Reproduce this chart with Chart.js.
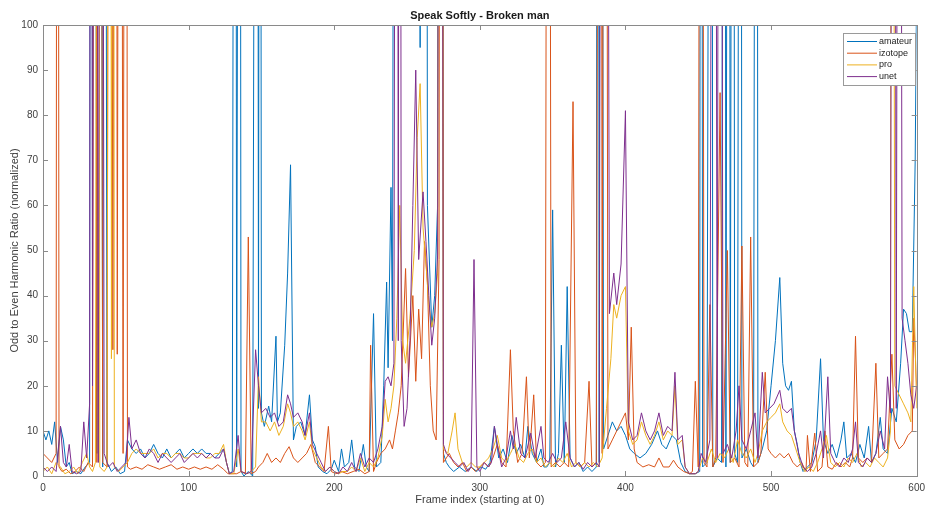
<!DOCTYPE html>
<html>
<head>
<meta charset="utf-8">
<script src="https://cdn.jsdelivr.net/npm/chart.js@4/dist/chart.umd.min.js"></script>
<style>
  html,body{margin:0;padding:0;background:#fff;}
  #wrap{width:931px;height:509px;position:relative;}
</style>
</head>
<body>
<div id="wrap"><canvas id="c" width="931" height="509"></canvas></div>
<script>
// [frame, value] pairs; 400 = spike running off the top of the axes
const amateur = [[0,10],[2,8],[4,10],[6,7],[8,12],[10,3],[12,11],[14,8],[16,2],[18,3],[20,0.5],[23,1],[26,0.5],[29,2],[32,3],[33,400],[34,41],[35,400],[37,5],[39,400],[41,2],[42,400],[44,3],[47,1],[50,2],[53,0.5],[56,1],[58,8],[61,6],[64,5],[67,6],[70,4],[73,5],[76,7],[79,5],[82,4],[85,6],[88,4],[91,5],[94,6],[97,4],[100,5],[103,6],[106,5],[109,6],[112,5],[115,5],[118,4],[121,5],[124,6],[126,3],[128,0.5],[130,1],[132,400],[133,2],[135,400],[136,1],[138,0],[141,1],[144,0],[147,400],[148,15],[149,400],[150,14],[152,11],[155,15.5],[157,12],[160,31],[161,12],[163,14],[166,29],[168,45],[170,69],[172,8],[174,11],[177,12],[180,9],[183,18],[185,8],[187,6.5],[189,2],[192,1],[195,0.5],[198,1.5],[200,3.5],[203,1],[205,6],[207,2],[210,3],[212,8],[214,2],[217,1],[220,7],[222,2],[224,1],[227,36],[229,2],[232,3],[234,20],[236,43],[237,24],[239,64],[240,30],[242,400],[250,400],[258,400],[259,95],[260,400],[263,400],[264,60],[267,33],[269,40],[271,60],[272,400],[274,400],[275,5],[277,3],[279,2],[282,1],[286,2],[290,1],[294,2],[298,1],[301,2],[304,1.5],[307,3],[310,11],[313,4],[316,6],[319,3],[322,9],[325,5],[328,7],[331,4],[333,11],[336,5],[339,3],[342,6],[344,2],[346,2],[348,3],[350,59],[352,2],[354,5],[356,29],[358,3],[360,42],[362,4],[365,2],[368,3],[371,1],[374,2],[377,1],[380,2],[381,400],[382,3],[383,400],[385,6],[388,9],[391,12],[394,10],[397,11],[400,9],[403,6],[406,5],[410,4],[414,5],[418,7],[422,10],[425,7],[428,6],[432,9],[435,8],[438,3],[441,1],[444,0.5],[448,0.5],[451,1],[452,400],[453,2],[456,3],[459,400],[460,2],[463,4],[466,3],[468,400],[469,2],[471,400],[472,3],[474,400],[475,5],[477,3],[479,400],[480,4],[483,6],[486,3],[488,2],[490,400],[491,3],[494,6],[497,10],[500,20],[503,30],[506,44],[508,25],[510,20],[512,19],[514,21],[516,10],[518,7],[520,3],[522,1],[525,2],[528,3],[531,8],[534,26],[536,8],[539,5],[542,7],[545,4],[548,8],[550,12],[552,4],[555,5],[558,3],[561,7],[564,4],[567,11],[569,3],[572,5],[575,13],[577,6],[580,5],[583,15],[586,12],[589,25],[591,37],[593,36],[595,32],[597,32],[599,70],[600,110]];

const izotope = [[0,5],[3,4],[6,3],[9,5],[10,400],[11,2],[13,1],[16,1.5],[19,0.5],[22,1],[25,2],[28,1],[31,3],[34,2],[36,400],[37,3],[39,400],[41,3],[44,2],[46,400],[48,28],[50,400],[51,27],[53,400],[55,5],[57,400],[58,2],[60,1.5],[64,2],[68,1.5],[72,2.5],[76,2],[80,1.5],[84,2],[88,2.5],[92,1.5],[96,2],[100,1.5],[104,2],[108,1.5],[112,2],[116,1.5],[120,2.5],[124,1.5],[127,0.5],[130,0.5],[133,0.5],[136,1],[139,0.5],[141,53],[143,0.5],[146,1],[148,2],[151,3],[154,5],[157,3],[160,4],[163,3],[166,5],[169,6.5],[172,4],[175,3],[178,4],[181,5],[184,7],[187,3],[190,2],[193,1],[196,11],[198,1],[201,0.5],[205,1],[209,0.5],[213,1],[217,1.5],[221,0.5],[224,1],[225,29],[227,1],[229,3],[232,5],[235,6],[238,8],[240,6],[242,10],[244,14],[246,20],[249,46],[251,22],[254,40],[256,21],[258,37],[260,26],[262,52],[264,43],[266,20],[268,10],[270,8],[272,48],[273,400],[274,400],[275,3],[277,4],[279,5],[282,3],[285,2],[288,3],[291,1],[294,2],[297,1],[300,2],[303,3],[306,2],[309,4],[312,7],[315,3],[318,2],[321,28],[323,10],[326,3],[329,5],[332,22],[334,4],[337,18],[339,3],[342,2],[345,3],[347,400],[349,2],[352,3],[355,2],[358,3],[361,2],[364,83],[366,3],[369,2],[372,3],[375,21],[377,2],[380,3],[383,400],[384,5],[386,400],[388,6],[391,8],[394,10],[397,12],[400,14],[402,8],[404,33],[406,6],[408,3],[412,2],[416,2.5],[420,2],[423,4],[426,2],[430,2],[433,3.5],[436,2],[440,1],[444,0.5],[446,1],[448,21],[450,2],[452,400],[454,3],[456,2],[458,38],[460,2],[462,4],[465,85],[467,3],[470,50],[472,3],[475,4],[478,2],[480,51],[482,3],[484,2],[486,53],[488,2],[491,3],[493,5],[496,23],[498,6],[500,5],[503,4],[506,5],[509,4],[512,5],[515,3],[518,2],[521,3],[524,1],[525,9],[527,1],[530,9.5],[532,1],[535,2],[537,10],[539,2],[542,1.5],[545,3],[548,2],[551,3],[554,2],[556,4],[558,31],[560,4],[563,3],[566,4],[569,3],[572,25],[574,4],[577,5],[580,6],[583,27],[585,8],[588,6],[591,7],[594,9],[597,10],[598,35],[600,20]];

const pro = [[0,1],[3,2],[6,0.5],[9,3],[12,2],[15,0.5],[18,1],[21,2],[24,0.5],[27,3],[30,5],[32,2],[34,1],[36,3],[38,400],[39,2],[42,1],[44,2],[46,400],[47,26],[48,400],[49,2],[52,1],[55,2],[58,3],[61,5],[64,6],[67,5],[70,5],[73,5],[76,6],[79,4],[82,5],[85,5],[88,4],[91,5],[94,5],[97,4],[100,4],[103,5],[106,5],[109,5],[112,4],[115,4],[118,5],[121,5],[124,7],[126,3],[128,0.5],[131,0.5],[134,6],[136,1],[140,0.5],[143,1],[146,2],[148,22],[150,12],[153,12],[156,10],[159,12],[162,9],[165,11],[168,16],[170,14],[172,11],[175,12],[178,10],[180,8],[183,12],[185,6],[188,4],[191,2],[194,1],[197,2],[200,1],[203,0.5],[206,1],[209,1],[212,2],[215,1],[218,4],[221,1],[224,3],[227,2],[230,4],[233,9],[235,17],[237,12],[239,15],[241,20],[243,35],[245,60],[247,30],[249,25],[252,35],[255,50],[257,75],[259,87],[261,55],[263,47],[265,38],[267,33],[269,36],[271,45],[273,400],[275,6],[278,5],[281,10],[283,14],[285,6],[288,3],[291,2],[294,3],[297,2],[300,2],[303,3],[306,4],[309,6],[312,9],[315,4],[318,3],[321,5],[324,7],[327,4],[330,3],[333,5],[336,6],[339,3],[342,4],[345,2],[348,3],[351,2],[354,4],[357,3],[360,5],[363,2],[366,3],[369,2],[372,3],[375,2],[378,3],[381,2],[384,4],[387,15],[390,26],[392,38],[394,35],[397,40],[400,42],[402,10],[405,7],[408,8],[411,12],[414,9],[417,7],[420,9],[423,12],[426,8],[429,10],[432,9],[434,20],[436,7],[439,8],[441,2],[444,0.5],[448,0.5],[450,1],[453,4],[456,3],[459,6],[462,3],[465,5],[468,4],[471,6],[474,3],[477,8],[480,5],[483,4],[486,6],[489,3],[491,5],[494,10],[497,12],[500,13],[503,14],[506,16],[508,12],[511,10],[514,9],[517,6],[520,3],[523,1],[526,2],[529,1],[532,3],[535,6],[538,9],[541,3],[544,2],[547,3],[550,2],[553,4],[556,3],[559,5],[562,2],[565,3],[568,2],[571,4],[574,3],[577,2],[580,4],[582,10],[583,400],[585,20],[588,18],[591,16],[594,14],[596,12],[598,42],[600,15]];

const unet = [[0,2],[3,1],[6,2],[9,1],[12,11],[14,3],[16,2],[18,7],[20,1],[23,0.5],[26,1],[28,12],[30,4],[32,16],[33,400],[34,20],[36,400],[38,3],[40,400],[42,5],[45,2],[48,3],[51,1],[54,2],[57,3],[59,13],[61,6],[64,8],[67,5],[70,4],[73,6],[76,5],[79,3],[82,5],[85,4],[88,3],[91,4],[94,5],[97,3],[100,4],[103,5],[106,4],[109,5],[112,4],[115,5],[118,4],[121,4],[124,6],[126,3],[128,0.5],[131,1],[134,9],[136,1],[140,0.5],[143,1],[146,28],[148,20],[150,14],[153,15],[156,13],[159,14],[162,11],[165,12],[168,18],[170,16],[172,13],[175,14],[178,12],[180,9],[183,14],[185,7],[188,5],[191,3],[194,1],[197,2],[200,1],[203,0.5],[206,2],[209,1],[212,3],[215,1],[218,5],[221,2],[224,4],[227,3],[230,6],[233,11],[235,21],[237,22],[239,20],[241,25],[243,400],[244,30],[245,400],[246,30],[248,11],[250,15],[252,30],[254,60],[256,90],[258,48],[261,63],[263,52],[265,40],[267,29],[269,35],[271,49],[273,400],[275,7],[277,5],[280,4],[283,3],[286,2],[289,3],[292,1],[294,2],[296,48],[298,2],[300,1],[303,3],[306,2],[308,3],[310,11],[312,7],[315,2],[318,4],[321,10],[323,6],[325,13],[328,5],[331,4],[335,9.5],[338,4],[342,11],[344,4],[347,3],[350,5],[353,3],[356,4],[359,12],[362,4],[365,2],[368,3],[371,1.5],[374,3],[377,2],[380,3],[382,2],[384,400],[386,400],[389,36],[392,45],[394,38],[397,47],[400,81],[402,12],[405,8],[408,9],[411,14],[414,10],[417,8],[420,10],[423,14],[426,9],[429,11],[432,10],[434,23],[436,8],[439,9],[441,2],[444,0.5],[448,0.5],[450,1],[452,5],[455,3],[458,8],[461,400],[463,4],[465,400],[467,5],[470,7],[473,4],[476,10],[478,20],[480,8],[483,6],[486,10],[489,14],[491,4],[494,23],[496,14],[499,15],[502,16],[506,19],[508,15],[511,14],[514,15],[516,10],[519,5],[522,2],[525,1],[528,2],[531,5],[534,10],[536,4],[539,22],[541,5],[544,3],[547,2],[550,4],[553,3],[556,6],[558,12],[560,3],[563,2],[566,4],[569,3],[572,5],[575,10],[578,6],[580,22],[582,14],[584,400],[586,15],[588,400],[590,35],[592,30],[594,25],[596,18],[598,15],[600,20]];

const names  = ['amateur','izotope','pro','unet'];
const series = [amateur, izotope, pro, unet];
const colors = ['#0072BD','#D95319','#EDB120','#7E2F8E'];
const FONT = '"Liberation Sans", Arial, Helvetica, sans-serif';
const AX = '#8a8a8a', TXT = '#404040';

// matlab-ish box: frame on all four sides with inward ticks, plus title and legend
const boxPlugin = {
  id:'box',
  afterDraw(chart){
    const {ctx, chartArea:a, scales} = chart;
    ctx.save();
    ctx.strokeStyle = AX; ctx.lineWidth = 1;
    ctx.strokeRect(Math.round(a.left)+0.5, Math.round(a.top)+0.5, Math.round(a.right-a.left), Math.round(a.bottom-a.top));
    const L = 5;
    ctx.beginPath();
    scales.x.ticks.forEach(t=>{
      const x = Math.round(scales.x.getPixelForValue(t.value))+0.5;
      ctx.moveTo(x,a.bottom); ctx.lineTo(x,a.bottom-L);
      ctx.moveTo(x,a.top); ctx.lineTo(x,a.top+L);
    });
    scales.y.ticks.forEach(t=>{
      const y = Math.round(scales.y.getPixelForValue(t.value))+0.5;
      ctx.moveTo(a.left,y); ctx.lineTo(a.left+L,y);
      ctx.moveTo(a.right,y); ctx.lineTo(a.right-L,y);
    });
    ctx.stroke();

    // title
    ctx.fillStyle = '#1a1a1a';
    ctx.font = 'bold 11px '+FONT;
    ctx.textAlign = 'center'; ctx.textBaseline = 'middle';
    ctx.fillText('Speak Softly - Broken man', (a.left+a.right)/2, 16);

    // legend, top right inside the axes
    const lx=843, ly=33, lw=72, lh=52;
    ctx.fillStyle='#fff'; ctx.fillRect(lx,ly,lw,lh);
    ctx.strokeStyle='#9a9a9a'; ctx.strokeRect(lx+0.5,ly+0.5,lw,lh);
    ctx.font = '9px '+FONT; ctx.textAlign='left';
    names.forEach((n,i)=>{
      const y = ly+8+i*11.7;
      ctx.strokeStyle = colors[i];
      ctx.beginPath(); ctx.moveTo(lx+4,y+0.5); ctx.lineTo(lx+34,y+0.5); ctx.stroke();
      ctx.fillStyle = '#222'; ctx.fillText(n, lx+36, y+0.5);
    });
    ctx.restore();
  }
};

new Chart(document.getElementById('c'), {
  type:'line',
  data:{
    datasets: series.map((s,i)=>({
      label:names[i],
      data:s.map(p=>({x:p[0], y:p[1]})),
      borderColor:colors[i],
      borderWidth:1,
      pointRadius:0,
      tension:0,
      fill:false,
      order:4-i
    }))
  },
  options:{
    responsive:false,
    animation:false,
    devicePixelRatio:1,
    layout:{padding:{top:25,right:12,left:0,bottom:0}},
    plugins:{legend:{display:false}, tooltip:{enabled:false}},
    scales:{
      x:{
        type:'linear', min:0, max:600,
        afterFit(s){ s.height = 33; },
        grid:{display:false, drawTicks:false},
        border:{display:false},
        ticks:{stepSize:100, padding:6, color:TXT, font:{family:FONT, size:10}, maxRotation:0},
        title:{display:true, text:'Frame index (starting at 0)', color:TXT, font:{family:FONT, size:11}, padding:{top:0,bottom:2}}
      },
      y:{
        min:0, max:100,
        afterFit(s){ s.width = 43; },
        grid:{display:false, drawTicks:false},
        border:{display:false},
        ticks:{stepSize:10, padding:5, color:TXT, font:{family:FONT, size:10}},
        title:{display:true, text:'Odd to Even Harmonic Ratio (normalized)', color:TXT, font:{family:FONT, size:11}, padding:{top:8,bottom:0}}
      }
    }
  },
  plugins:[boxPlugin]
});
</script>
</body>
</html>
